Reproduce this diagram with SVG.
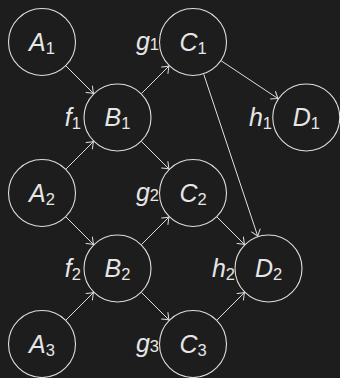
<svg xmlns="http://www.w3.org/2000/svg" width="340" height="378" viewBox="0 0 340 378">
  <style>
    .node circle { fill: none; stroke: #dedede; stroke-width: 1.1; }
    .node text, .lbl { font-family: "Liberation Sans", "DejaVu Sans", sans-serif; font-style: italic; font-size: 25px; fill: #e6e6e6; }
    .node text { text-anchor: middle; }
    .lbl { text-anchor: end; }
    .sub { font-size: 16.5px; font-style: normal; }
    .edges line { stroke: #dedede; stroke-width: 1; marker-end: url(#to); }
  </style>
  <defs>
    <marker id="to" viewBox="-8 -6 10 12" markerWidth="10" markerHeight="12" refX="0" refY="0" orient="auto" markerUnits="userSpaceOnUse">
      <path d="M -6 -4.5 Q -1.5 -1 0 0 Q -1.5 1 -6 4.5" fill="none" stroke="#dedede" stroke-width="1" stroke-linecap="round"/>
    </marker>
  </defs>
  <rect width="340" height="378" fill="#1d1d1d"/>

  <g id="connectors" class="edges">
    <line x1="66" y1="66" x2="93.5" y2="93.5"/>
    <line x1="66" y1="169" x2="93.5" y2="141.5"/>
    <line x1="66" y1="217" x2="93.5" y2="244.5"/>
    <line x1="66" y1="320" x2="93.5" y2="292.5"/>
    <line x1="141.5" y1="93.5" x2="169" y2="66"/>
    <line x1="141.5" y1="141.5" x2="169" y2="169"/>
    <line x1="141.5" y1="244.5" x2="169" y2="217"/>
    <line x1="141.5" y1="292.5" x2="169" y2="320"/>
    <line x1="221.3" y1="60.9" x2="278" y2="98.6"/>
    <line x1="203.75" y1="74.3" x2="257.75" y2="236.2"/>
    <line x1="217" y1="217" x2="244.5" y2="244.5"/>
    <line x1="217" y1="320" x2="244.5" y2="292.5"/>
  </g>

  <g id="A1" class="node"><circle cx="42" cy="42" r="33.5"/><text x="42" y="50.5">A<tspan class="sub" dy="3">1</tspan></text></g>
  <g id="A2" class="node"><circle cx="42" cy="193" r="33.5"/><text x="42" y="201.5">A<tspan class="sub" dy="3">2</tspan></text></g>
  <g id="A3" class="node"><circle cx="42" cy="344" r="33.5"/><text x="42" y="352.5">A<tspan class="sub" dy="3">3</tspan></text></g>

  <g id="B1" class="node"><circle cx="117.5" cy="117.5" r="33.5"/><text x="117.5" y="126">B<tspan class="sub" dy="3">1</tspan></text></g>
  <g id="B2" class="node"><circle cx="117.5" cy="268.5" r="33.5"/><text x="117.5" y="277">B<tspan class="sub" dy="3">2</tspan></text></g>

  <g id="C1" class="node"><circle cx="193" cy="42" r="33.5"/><text x="193" y="50.5">C<tspan class="sub" dy="3">1</tspan></text></g>
  <g id="C2" class="node"><circle cx="193" cy="193" r="33.5"/><text x="193" y="201.5">C<tspan class="sub" dy="3">2</tspan></text></g>
  <g id="C3" class="node"><circle cx="193" cy="344" r="33.5"/><text x="193" y="352.5">C<tspan class="sub" dy="3">3</tspan></text></g>

  <g id="D1" class="node"><circle cx="306.25" cy="117.5" r="33.5"/><text x="306.25" y="126">D<tspan class="sub" dy="3">1</tspan></text></g>
  <g id="D2" class="node"><circle cx="268.5" cy="268.5" r="33.5"/><text x="268.5" y="277">D<tspan class="sub" dy="3">2</tspan></text></g>

  <g id="labels">
    <text class="lbl" x="81" y="125.5">f<tspan class="sub" dy="3">1</tspan></text>
    <text class="lbl" x="81" y="276.5">f<tspan class="sub" dy="3">2</tspan></text>
    <text class="lbl" x="159" y="50">g<tspan class="sub" dy="0">1</tspan></text>
    <text class="lbl" x="159" y="201">g<tspan class="sub" dy="0">2</tspan></text>
    <text class="lbl" x="159" y="352">g<tspan class="sub" dy="0">3</tspan></text>
    <text class="lbl" x="272" y="126">h<tspan class="sub" dy="3">1</tspan></text>
    <text class="lbl" x="235" y="277">h<tspan class="sub" dy="3">2</tspan></text>
  </g>
</svg>
